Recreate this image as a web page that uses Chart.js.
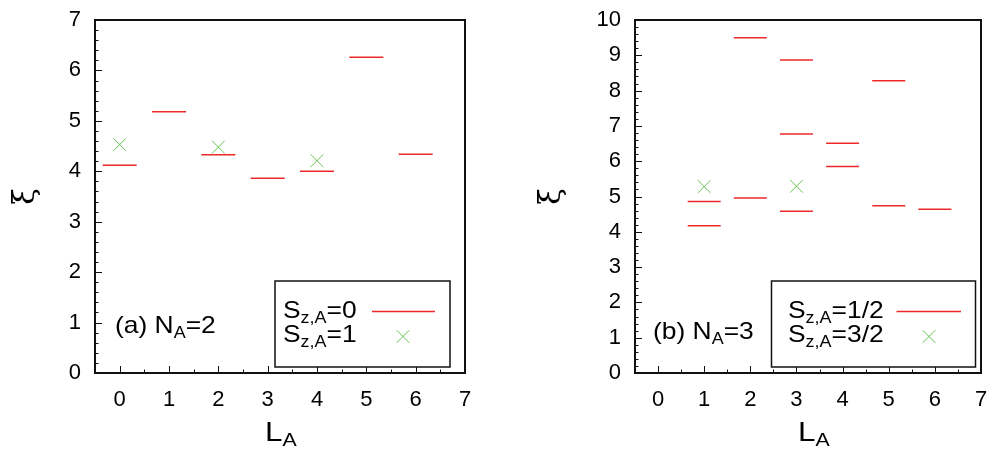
<!DOCTYPE html>
<html><head><meta charset="utf-8">
<script src="https://cdn.jsdelivr.net/npm/chart.js@4.4.1/dist/chart.umd.min.js"></script>
<style>
html,body{margin:0;padding:0;background:#fff;}
#wrap{position:relative;width:999px;height:450px;overflow:hidden;font-family:"Liberation Sans",Arial,sans-serif;color:#000;}
.pane{position:absolute;top:0;height:450px;}
canvas{display:block;}
.t{position:absolute;white-space:nowrap;line-height:1;font-size:24px;transform:scaleX(1.1);transform-origin:0 0;}
.t sub{font-size:0.68em;vertical-align:-0.28em;line-height:0;}
.big{font-size:28px;transform:scaleX(1.12);}
</style></head><body>
<div id="wrap">
 <div class="pane" style="left:0;width:500px"><canvas id="c1" width="500" height="450"></canvas></div>
 <div class="pane" style="left:500px;width:499px"><canvas id="c2" width="499" height="450"></canvas></div>
 <div class="t" style="left:115px;top:313px">(a) N<sub>A</sub>=2</div>
 <div class="t" style="left:653px;top:319px">(b) N<sub>A</sub>=3</div>
 <div class="t" style="left:283px;top:298px">S<sub>z,A</sub>=0</div>
 <div class="t" style="left:283px;top:322px">S<sub>z,A</sub>=1</div>
 <div class="t" style="left:788px;top:298px">S<sub>z,A</sub>=1/2</div>
 <div class="t" style="left:788px;top:322px">S<sub>z,A</sub>=3/2</div>
 <div class="t big" style="left:265px;top:418px">L<sub>A</sub></div>
 <div class="t big" style="left:798px;top:418px">L<sub>A</sub></div>
</div>
<script>
// ---- data ----
const LA_TICKS = [0, 1, 2, 3, 4, 5, 6, 7];
const XI_TICKS_A = [0, 1, 2, 3, 4, 5, 6, 7];
const XI_TICKS_B = [0, 1, 2, 3, 4, 5, 6, 7, 8, 9, 10];

// panel (a) N_A=2
const A_LA_S0 = [0, 1, 2, 3, 4, 5, 6];
const A_XI_S0 = [4.12, 5.18, 4.33, 3.86, 4.00, 6.26, 4.34];
const A_LA_S1 = [0, 2, 4];
const A_XI_S1 = [4.53, 4.48, 4.21];

// panel (b) N_A=3
const B_LA_S12 = [1, 1, 2, 2, 3, 3, 3, 4, 4, 5, 5, 6];
const B_XI_S12 = [4.86, 4.17, 9.50, 4.96, 8.87, 6.77, 4.58, 6.51, 5.85, 8.28, 4.74, 4.64];
const B_LA_S32 = [1, 3];
const B_XI_S32 = [5.28, 5.29];

const RED = 'rgb(238,40,40)';
const GREEN = 'rgb(100,196,80)';
const FRAME = '#111';

function pts(xs, ys) { return xs.map((x, i) => ({x: x, y: ys[i]})); }

const framePlugin = {
  id: 'frameTicks',
  afterDatasetsDraw(chart, args, opts) {
    const ctx = chart.ctx, a = chart.chartArea;
    const xs = chart.scales.x, ys = chart.scales.y;
    ctx.save();
    ctx.strokeStyle = FRAME;
    ctx.lineWidth = 1;
    for (let k = 0; ; k++) {
      const v = ys.min + k * opts.yMinor;
      if (v > ys.max + 1e-9) break;
      const major = Math.abs(v - Math.round(v)) < 1e-6;
      const py = Math.round(ys.getPixelForValue(v)) + 0.5;
      ctx.beginPath();
      ctx.moveTo(a.left, py);
      ctx.lineTo(a.left + (major ? 7 : 3.5), py);
      ctx.stroke();
    }
    for (let k = 0; ; k++) {
      const v = k * opts.xMinor;
      if (v > xs.max + 1e-9) break;
      const major = Math.abs(v - Math.round(v)) < 1e-6;
      const px = Math.round(xs.getPixelForValue(v)) + 0.5;
      ctx.beginPath();
      ctx.moveTo(px, a.bottom);
      ctx.lineTo(px, a.bottom - (major ? 7 : 3.5));
      ctx.stroke();
    }
    ctx.lineWidth = 2;
    ctx.strokeRect(a.left, a.top, a.right - a.left, a.bottom - a.top);
    const L = opts.legend;
    ctx.fillStyle = '#fff';
    ctx.fillRect(L.box[0], L.box[1], L.box[2] - L.box[0], L.box[3] - L.box[1]);
    ctx.lineWidth = 1.5;
    ctx.strokeStyle = FRAME;
    ctx.strokeRect(L.box[0], L.box[1], L.box[2] - L.box[0], L.box[3] - L.box[1]);
    ctx.strokeStyle = RED;
    ctx.lineWidth = 1.5;
    ctx.beginPath();
    ctx.moveTo(L.line[0], L.line[2]);
    ctx.lineTo(L.line[1], L.line[2]);
    ctx.stroke();
    ctx.strokeStyle = GREEN;
    ctx.lineWidth = 1;
    const r = 6.3, cx = L.cross[0], cy = L.cross[1];
    ctx.beginPath();
    ctx.moveTo(cx - r, cy - r); ctx.lineTo(cx + r, cy + r);
    ctx.moveTo(cx - r, cy + r); ctx.lineTo(cx + r, cy - r);
    ctx.stroke();
    ctx.restore();
  }
};

function makeChart(id, cfg) {
  return new Chart(document.getElementById(id), {
    type: 'scatter',
    data: {
      datasets: [
        {data: pts(cfg.x0, cfg.y0), pointStyle: 'line', pointRadius: cfg.segR, borderColor: RED, backgroundColor: RED, borderWidth: 1.5, showLine: false},
        {data: pts(cfg.x1, cfg.y1), pointStyle: 'crossRot', pointRadius: 9, borderColor: GREEN, backgroundColor: GREEN, borderWidth: 1, showLine: false}
      ]
    },
    options: {
      responsive: false,
      animation: false,
      events: [],
      devicePixelRatio: 1,
      layout: {padding: {left: 0, right: cfg.padRight, top: 20, bottom: 0}},
      plugins: {
        legend: {display: false},
        tooltip: {enabled: false},
        frameTicks: {xMinor: 0.5, yMinor: 0.2, legend: cfg.legend}
      },
      scales: {
        x: {
          type: 'linear', min: -0.5, max: 7,
          afterBuildTicks: s => { s.ticks = LA_TICKS.map(v => ({value: v})); },
          afterFit: s => { s.height = 77; s.paddingLeft = 0; s.paddingRight = 0; },
          grid: {display: false, drawTicks: false},
          border: {display: false},
          ticks: {color: '#000', padding: 14, maxRotation: 0, autoSkip: false, font: {family: 'Liberation Sans', size: 22}}
        },
        y: {
          type: 'linear', min: 0, max: cfg.ymax,
          afterBuildTicks: s => { s.ticks = cfg.yt.map(v => ({value: v})); },
          afterFit: s => { s.width = cfg.yw; s.paddingTop = 0; s.paddingBottom = 0; },
          grid: {display: false, drawTicks: false},
          border: {display: false},
          title: {display: true, text: 'ξ', color: '#000', padding: {top: cfg.titlePad, bottom: 0}, font: {family: 'DejaVu Serif', size: 30}},
          ticks: {color: '#000', padding: 14, autoSkip: false, font: {family: 'Liberation Sans', size: 22}}
        }
      }
    },
    plugins: [framePlugin]
  });
}

makeChart('c1', {
  x0: A_LA_S0, y0: A_XI_S0, x1: A_LA_S1, y1: A_XI_S1,
  ymax: 7, yt: XI_TICKS_A, yw: 95, padRight: 35, segR: 17, titlePad: 8,
  legend: {box: [275, 281, 450, 367], line: [372, 435, 311.5], cross: [403, 336.5]}
});
makeChart('c2', {
  x0: B_LA_S12, y0: B_XI_S12, x1: B_LA_S32, y1: B_XI_S32,
  ymax: 10, yt: XI_TICKS_B, yw: 135, padRight: 9, segR: 16.5, titlePad: 34,
  legend: {box: [271.5, 281, 475.5, 367], line: [396.5, 461, 311.5], cross: [429, 336.5]}
});
</script>
</body></html>
